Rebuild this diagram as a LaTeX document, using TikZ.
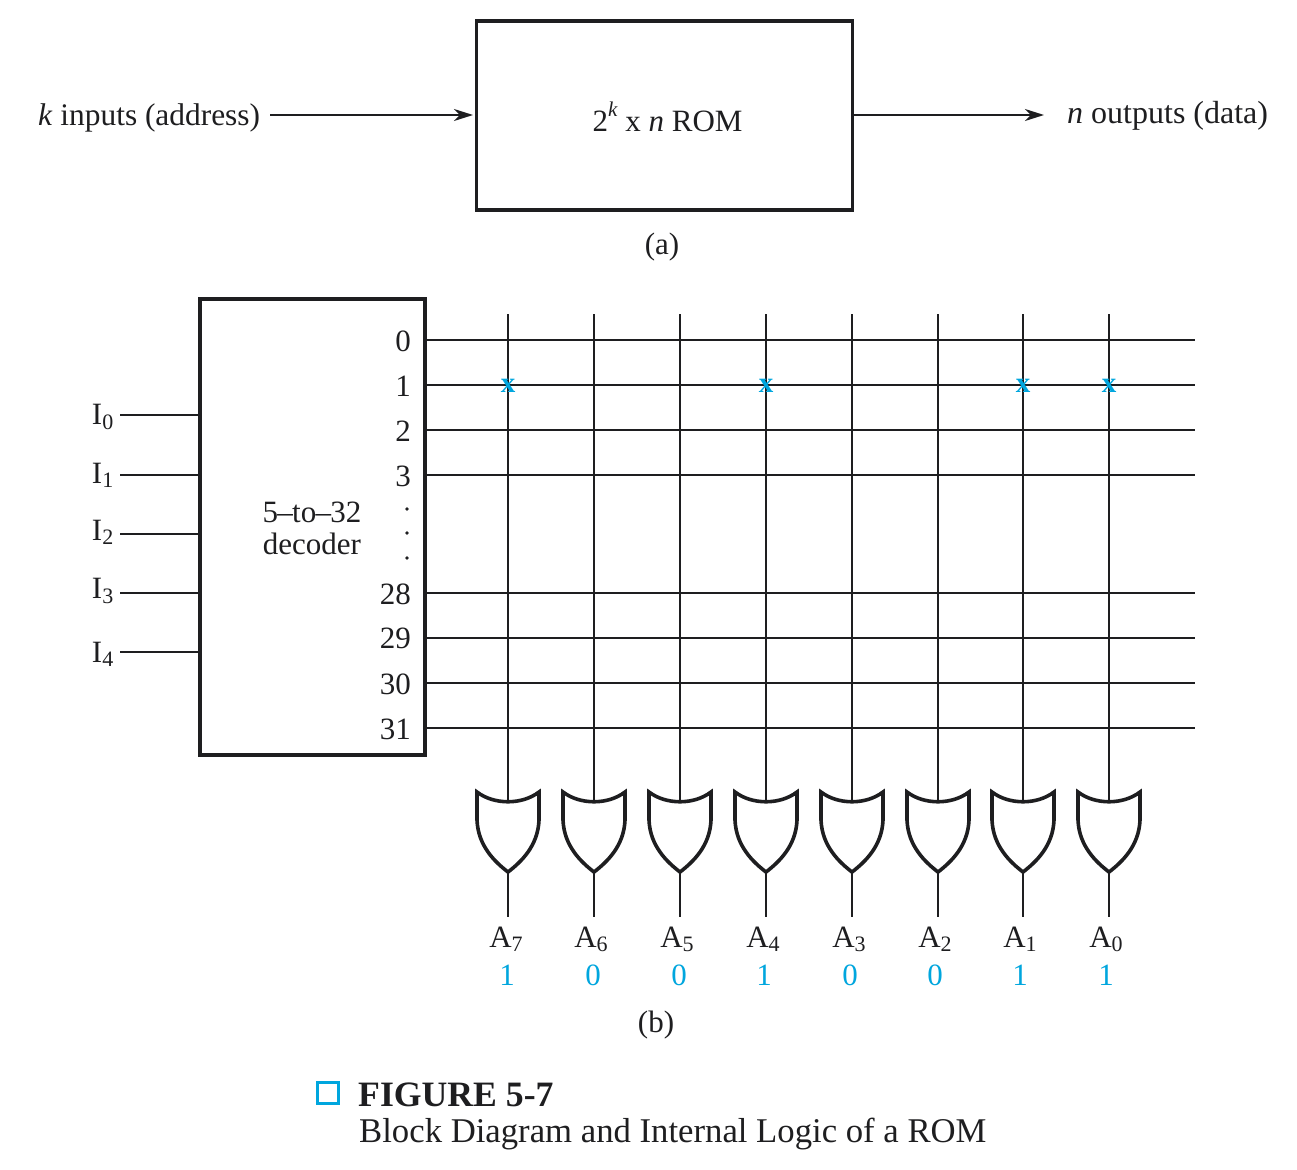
\documentclass[tikz,border=0pt]{standalone}
\usepackage{fontspec}
\setmainfont{Liberation Serif}
\usetikzlibrary{arrows.meta,calc}
\definecolor{cy}{RGB}{0,166,222}
\definecolor{ink}{RGB}{30,30,32}
\newcommand{\sub}[2]{#1\raisebox{-0.3ex}{\fontsize{22}{22}\selectfont #2}}
\begin{document}
\begin{tikzpicture}[x=1pt,y=-1pt,
  txt/.style={inner sep=0pt,text=ink,font=\fontsize{31}{36}\selectfont},
  cytxt/.style={txt,text=cy},
  boxn/.style={draw=ink,line width=3.5pt,inner sep=0pt},
  wire/.style={draw=ink,line width=1.9pt},
  arr/.style={wire,-{Stealth[length=19pt,width=12pt,inset=6pt]}},
  gate/.style={draw=ink,line width=3.6pt,line join=miter,fill=white}]
\useasboundingbox (0,0) rectangle (1297,1169);
\fill[white] (0,0) rectangle (1297,1169);
% (a)
\node[boxn,minimum width=376pt,minimum height=189pt] (rom) at (664.5,115.5) {};
\node[txt,anchor=base] (romt) at (667.5,132) {2\raisebox{1.1ex}{\fontsize{21}{21}\selectfont\textit{k}} x \textit{n} ROM};
\node[txt,anchor=west,font=\fontsize{31.4}{36}\selectfont] (kin) at (38,118) {\textit{k} inputs (address)};
\node[txt,anchor=west,font=\fontsize{32}{36}\selectfont] (nout) at (1067,116) {\textit{n} outputs (data)};
\coordinate (inS) at (270,115);
\coordinate (inE) at (473,115);
\coordinate (outS) at (854,115);
\coordinate (outE) at (1044,115);
\draw[arr] (inS) -- (inE);
\draw[arr] (outS) -- (outE);
\node[txt] (capa) at (662,247) {(a)};
% decoder
\node[boxn,minimum width=225pt,minimum height=456pt] (dec) at (312.5,527) {};
\node[txt,align=center] (dect) at (312,528.5) {5\kern-.7pt–\kern-.7pt to\kern-.7pt–\kern-.7pt 32\\[-3.5pt]decoder};
% row wires and labels
\foreach \n/\y/\ly in {0/340/341,1/385/386,2/430/431,3/475/476,28/593/594,29/638/638,30/683/684,31/728/729}{
  \node[txt,anchor=east] (lab\n) at (411,\ly) {\n};
  \coordinate (rs\n) at (427,\y);
  \coordinate (re\n) at (1195,\y);
  \draw[wire] (rs\n) -- (re\n);
}
\foreach \k/\y in {1/509,2/533,3/558}{
  \node[circle,fill=ink,inner sep=0pt,minimum size=3.6pt] (dot\k) at (407,\y) {};
}
% inputs
\foreach \k/\y/\ly in {0/415/417,1/475/475,2/534/532,3/593/591,4/652/654}{
  \node[txt,anchor=east] (in\k) at (113.5,\ly) {\sub{I}{\k}};
  \coordinate (is\k) at (120,\y);
  \coordinate (ie\k) at (199,\y);
  \draw[wire] (is\k) -- (ie\k);
}
% columns, gates and outputs
\foreach \k/\x/\lx/\v/\vx in {7/508/506/1/507,6/594/591/0/593,5/680/677/0/679,4/766/763/1/764,3/852/849/0/850,2/938/935/0/935,1/1023/1020/1/1020,0/1109/1106/1/1106}{
  \coordinate (ct\k) at (\x,314);
  \coordinate (cb\k) at (\x,802);
  \coordinate (gt\k) at (\x,872);
  \coordinate (ge\k) at (\x,917);
  \draw[wire] (ct\k) -- (cb\k);
  \draw[gate] (gt\k)
     .. controls ($(gt\k)+(-13,-10)$) and ($(gt\k)+(-30,-26)$) .. ($(gt\k)+(-31,-52)$)
     -- ($(gt\k)+(-31,-80)$)
     .. controls ($(gt\k)+(-14,-67)$) and ($(gt\k)+(14,-67)$) .. ($(gt\k)+(31,-80)$)
     -- ($(gt\k)+(31,-52)$)
     .. controls ($(gt\k)+(30,-26)$) and ($(gt\k)+(13,-10)$) .. cycle;
  \draw[wire] (gt\k) -- (ge\k);
  \node[txt] (a\k) at (\lx,939) {\sub{A}{\k}};
  \node[cytxt] (v\k) at (\vx,975) {\v};
}
% crosspoints
\foreach \x/\nm in {508/p7,766/p4,1023/p1,1109/p0}{
  \node[inner sep=0pt,text=cy,font=\fontsize{29}{29}\selectfont\bfseries] (\nm) at (\x,386) {x};
}
\node[txt] (capb) at (656,1025) {(b)};
% caption
\node[draw=cy,line width=3.6pt,minimum size=21pt,inner sep=0pt] (sq) at (328,1093) {};
\node[txt,anchor=west,font=\fontsize{35.7}{38}\selectfont\bfseries] (figt) at (358,1095) {FIGURE 5-7};
\node[txt,anchor=west,font=\fontsize{34.7}{38}\selectfont] (figc) at (359,1134) {Block Diagram and Internal Logic of a ROM};
\end{tikzpicture}
\end{document}
